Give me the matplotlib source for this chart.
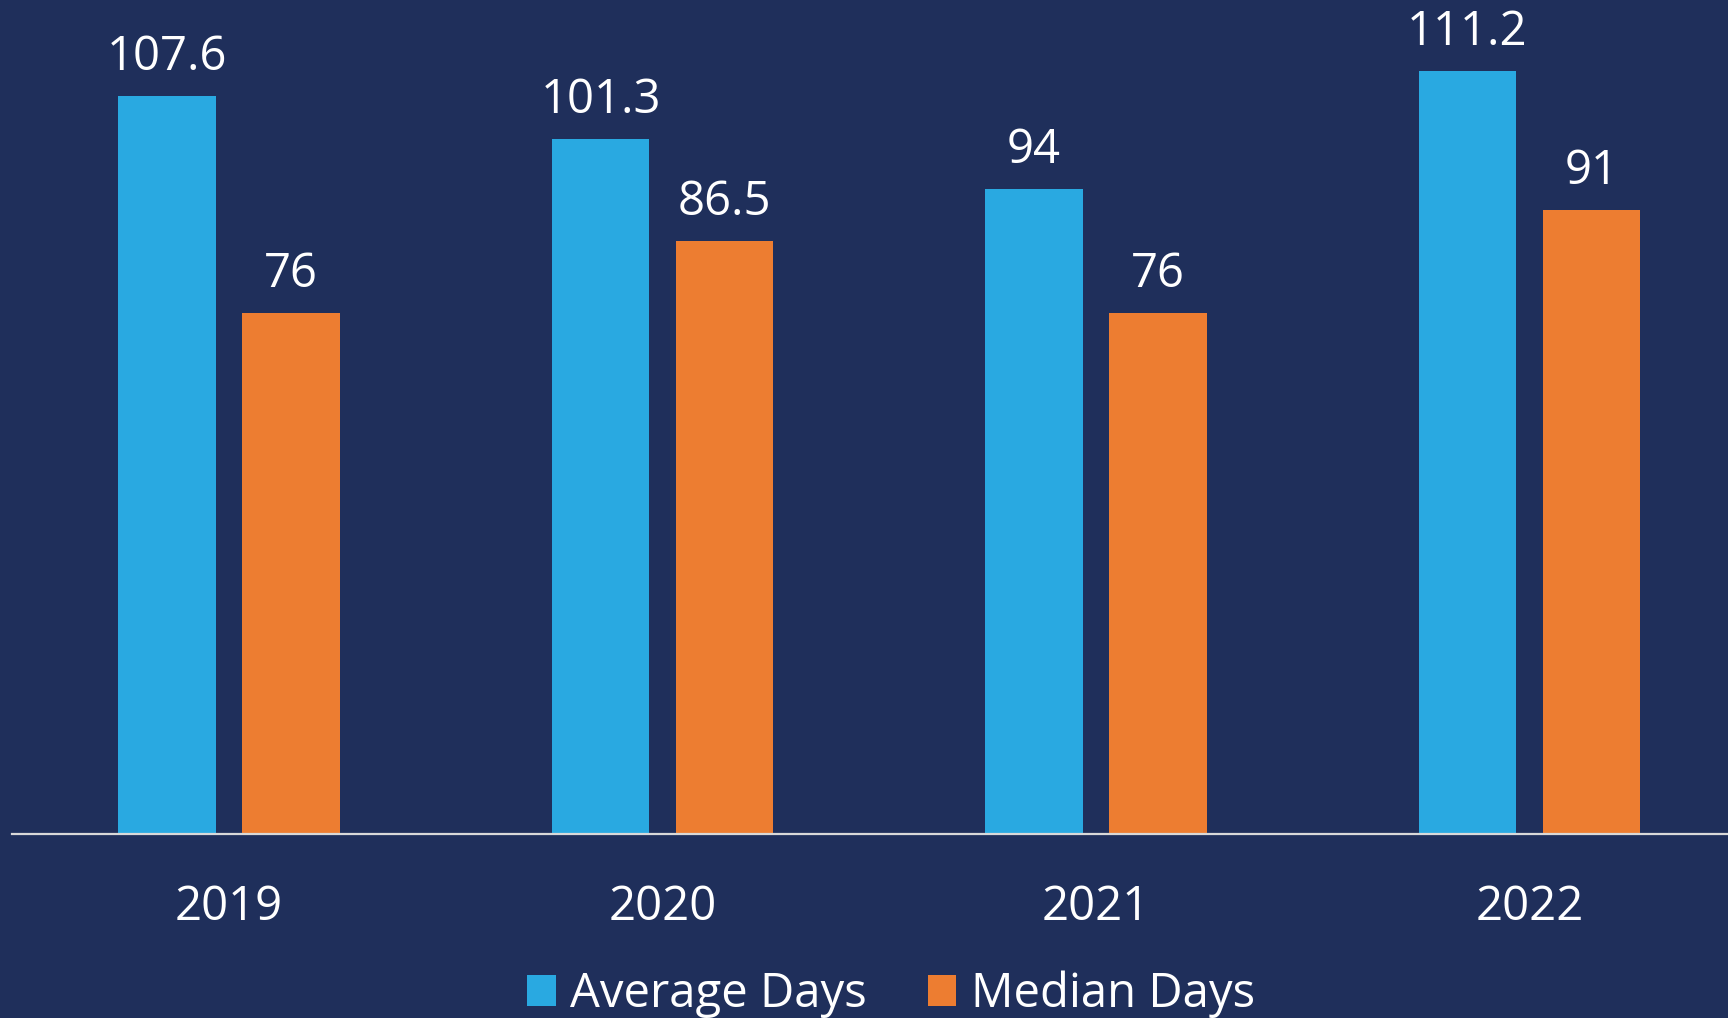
import matplotlib
matplotlib.use("Agg")
import matplotlib.pyplot as plt
import numpy as np

years = ["2019", "2020", "2021", "2022"]
average_days = [107.6, 101.3, 94, 111.2]
median_days = [76, 86.5, 76, 91]
avg_labels = ["107.6", "101.3", "94", "111.2"]
med_labels = ["76", "86.5", "76", "91"]

BG = "#1F2F5B"
BLUE = "#29A9E1"
ORANGE = "#ED7D31"

plt.rcParams['font.family'] = ['Open Sans', 'DejaVu Sans']
FS = 34

W, H = 1728, 1018
fig = plt.figure(figsize=(W / 100, H / 100), dpi=100, facecolor=BG)
ax = fig.add_axes([12.25 / W, 184 / H, 1734 / W, 834 / H])
ax.set_facecolor(BG)

x = np.arange(len(years))
bw = 0.224
off = 0.143
b1 = ax.bar(x - off, average_days, bw, color=BLUE, label="Average Days")
b2 = ax.bar(x + off, median_days, bw, color=ORANGE, label="Median Days")

for bars, labs in ((b1, avg_labels), (b2, med_labels)):
    for r, lab in zip(bars, labs):
        ax.annotate(lab, (r.get_x() + r.get_width() / 2, r.get_height()),
                    xytext=(0, 18.7), textcoords="offset points",
                    ha="center", va="baseline", color="white", fontsize=FS)

ax.set_xlim(-0.5, 3.5)
ax.set_ylim(0, 834 / 6.86)
ax.set_xticks(x)
ax.set_xticklabels(years, color="white", fontsize=FS)
ax.tick_params(axis="x", length=0, pad=36)
ax.set_yticks([])
for s in ("top", "right", "left"):
    ax.spines[s].set_visible(False)
ax.spines["bottom"].set_color("#D9D9D9")
ax.spines["bottom"].set_linewidth(1.6)

leg = fig.legend(handles=[b1, b2], loc="center", bbox_to_anchor=(891 / W, 24 / H),
                 ncol=2, frameon=False, fontsize=FS, handlelength=0.6, handleheight=0.64,
                 handletextpad=0.3, columnspacing=1.3, borderaxespad=0, borderpad=0)
for t in leg.get_texts():
    t.set_color("white")

fig.savefig("out.png", dpi=100, facecolor=BG)
